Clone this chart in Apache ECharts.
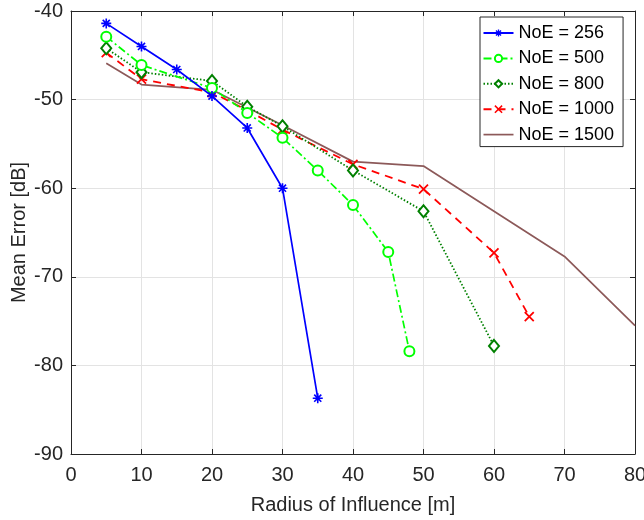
<!DOCTYPE html>
<html>
<head>
<meta charset="utf-8">
<script src="https://cdn.jsdelivr.net/npm/echarts@6/dist/echarts.min.js"></script>
<style>
html,body{margin:0;padding:0;background:#fff;}
#chart{width:644px;height:520px;}
</style>
</head>
<body>
<div id="chart"></div>
<script>
// ---- data ----
const xTicks = [0, 10, 20, 30, 40, 50, 60, 70, 80];
const yTicks = [-90, -80, -70, -60, -50, -40];

const x256 = [5, 10, 15, 20, 25, 30, 35];
const y256 = [-41.4, -44.0, -46.6, -49.6, -53.2, -60.0, -83.7];

const x500 = [5, 10, 20, 25, 30, 35, 40, 45, 48];
const y500 = [-42.9, -46.1, -48.7, -51.5, -54.3, -58.0, -61.9, -67.2, -78.4];

const x800 = [5, 10, 20, 25, 30, 40, 50, 60];
const y800 = [-44.2, -46.9, -47.9, -50.8, -53.0, -58.0, -62.6, -77.8];

const x1000 = [5, 10, 20, 25, 30, 40, 50, 60, 65];
const y1000 = [-44.7, -47.7, -49.2, -51.2, -53.4, -57.3, -60.1, -67.3, -74.5];

const x1500 = [5, 10, 20, 30, 40, 50, 60, 70, 80];
const y1500 = [-45.9, -48.3, -48.9, -52.9, -57.0, -57.5, -62.6, -67.7, -75.5];

const seriesNames = ['NoE = 256', 'NoE = 500', 'NoE = 800', 'NoE = 1000', 'NoE = 1500'];

// ---- chart ----
function pairs(xs, ys) { return xs.map((x, i) => [x, ys[i]]); }

const FONT = 'Liberation Sans, Arial, sans-serif';
const TXT = '#262626';
const asterisk = 'path://M0,-10L0,10M-10,0L10,0M-7.07,-7.07L7.07,7.07M-7.07,7.07L7.07,-7.07';
const cross = 'path://M-10,-10L10,10M-10,10L10,-10';
const plainLine = 'path://M0,0H30V1.7H0Z';

const chart = echarts.init(document.getElementById('chart'), null, {renderer: 'canvas'});

chart.setOption({
  animation: false,
  backgroundColor: '#fff',
  textStyle: {fontFamily: FONT},
  grid: {left: 71, right: 9, top: 11, bottom: 66, containLabel: false, outerBoundsMode: 'none'},
  legend: {
    orient: 'vertical',
    left: 480, top: 17,
    backgroundColor: '#fff',
    borderColor: '#262626', borderWidth: 1,
    padding: [7, 9, 3, 2.5],
    itemWidth: 30, itemHeight: 9, itemGap: 7.4,
    textStyle: {fontSize: 18, color: '#000', fontFamily: FONT},
    data: [
      {name: seriesNames[0], itemStyle: {borderColor: '#0000ff', borderWidth: 1.3}},
      {name: seriesNames[1]},
      {name: seriesNames[2]},
      {name: seriesNames[3], itemStyle: {borderColor: '#ff0000', borderWidth: 1.5}},
      {name: seriesNames[4], icon: plainLine}
    ]
  },
  xAxis: [{
    type: 'value', min: 0, max: 80, interval: 10,
    name: 'Radius of Influence [m]', nameLocation: 'middle', nameGap: 41,
    nameMoveOverlap: false,
    nameTextStyle: {fontSize: 20, color: TXT, fontFamily: FONT},
    axisLine: {show: true, onZero: false, lineStyle: {color: TXT, width: 1}},
    axisTick: {show: true, inside: true, length: 5, lineStyle: {color: TXT}},
    axisLabel: {fontSize: 20, color: TXT, margin: 11, fontFamily: FONT},
    splitLine: {show: true, lineStyle: {color: '#e3e3e3', width: 1}}
  }, {
    type: 'value', min: 0, max: 80, interval: 10, position: 'top',
    axisLine: {show: true, onZero: false, lineStyle: {color: TXT, width: 1}},
    axisTick: {show: true, inside: true, length: 5, lineStyle: {color: TXT}},
    axisLabel: {show: false}, splitLine: {show: false}
  }],
  yAxis: [{
    type: 'value', min: -90, max: -40, interval: 10,
    name: 'Mean Error [dB]', nameLocation: 'middle', nameGap: 42, nameRotate: 90,
    nameMoveOverlap: false,
    nameTextStyle: {fontSize: 20, color: TXT, fontFamily: FONT},
    axisLine: {show: true, onZero: false, lineStyle: {color: TXT, width: 1}},
    axisTick: {show: true, inside: true, length: 5, lineStyle: {color: TXT}},
    axisLabel: {fontSize: 20, color: TXT, margin: 8, fontFamily: FONT},
    splitLine: {show: true, lineStyle: {color: '#e3e3e3', width: 1}}
  }, {
    type: 'value', min: -90, max: -40, interval: 10, position: 'right',
    axisLine: {show: true, onZero: false, lineStyle: {color: TXT, width: 1}},
    axisTick: {show: true, inside: true, length: 5, lineStyle: {color: TXT}},
    axisLabel: {show: false}, splitLine: {show: false}
  }],
  series: [
    {
      name: seriesNames[0], type: 'line', data: pairs(x256, y256),
      symbol: asterisk, symbolSize: 10, showAllSymbol: true,
      lineStyle: {color: '#0000ff', width: 1.7, type: 'solid'},
      itemStyle: {color: '#0000ff', borderColor: '#0000ff', borderWidth: 1.6},
      z: 6
    },
    {
      name: seriesNames[1], type: 'line', data: pairs(x500, y500),
      symbol: 'emptyCircle', symbolSize: 10, showAllSymbol: true,
      lineStyle: {color: '#00ff00', width: 1.7, type: [8, 3, 2, 3]},
      itemStyle: {color: '#00ff00', borderColor: '#00ff00', borderWidth: 1.7},
      z: 5
    },
    {
      name: seriesNames[2], type: 'line', data: pairs(x800, y800),
      symbol: 'emptyDiamond', symbolSize: [10, 12], showAllSymbol: true,
      lineStyle: {color: '#008000', width: 1.8, type: [1.5, 2]},
      itemStyle: {color: '#008000', borderColor: '#008000', borderWidth: 1.7},
      z: 4
    },
    {
      name: seriesNames[3], type: 'line', data: pairs(x1000, y1000),
      symbol: cross, symbolSize: 9, showAllSymbol: true,
      lineStyle: {color: '#ff0000', width: 1.8, type: [8, 6]},
      itemStyle: {color: '#ff0000', borderColor: '#ff0000', borderWidth: 1.8},
      z: 3
    },
    {
      name: seriesNames[4], type: 'line', data: pairs(x1500, y1500),
      symbol: 'none',
      lineStyle: {color: '#8c5959', width: 1.7, type: 'solid'},
      itemStyle: {color: '#8c5959'},
      z: 2
    }
  ]
});
</script>
</body>
</html>
